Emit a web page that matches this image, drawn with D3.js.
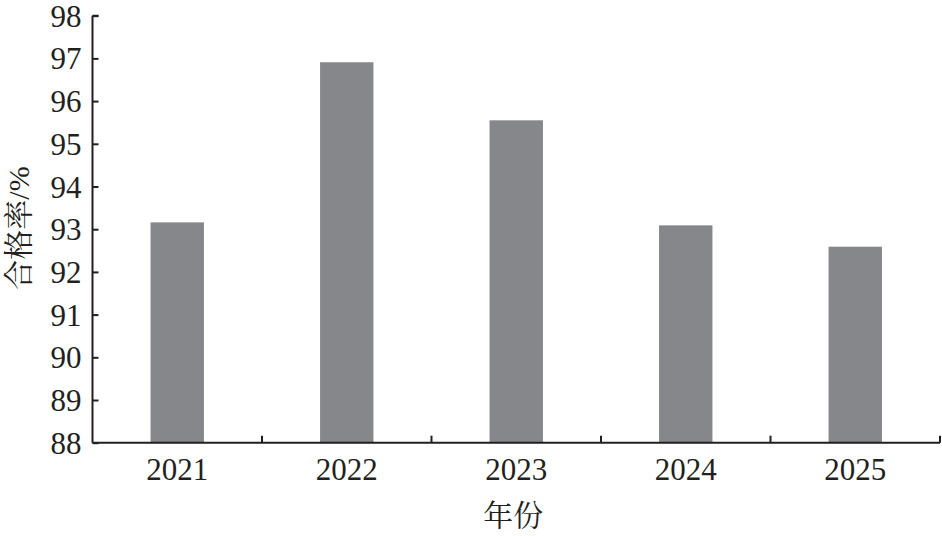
<!DOCTYPE html>
<html><head><meta charset="utf-8">
<script src="https://cdn.jsdelivr.net/npm/d3@7"></script>
<style>body{margin:0;background:#fff}
svg text{font-family:"Liberation Serif","Times New Roman",Times,serif;}
</style>
</head><body>
<svg id="c" width="942" height="536"></svg>
<script>
const categories = ["2021","2022","2023","2024","2025"];
const values = [93.16, 96.91, 95.55, 93.09, 92.59];
const yTicks = [88,89,90,91,92,93,94,95,96,97,98];
const xTitle = "年份";
const yTitle = "合格率/%";

const svg = d3.select("#c");
const L = 92.5, R = 940, T = 15.7, B = 442.7;
const x = d3.scaleBand().domain(categories).range([L, R]).paddingInner(0).paddingOuter(0);
const y = d3.scaleLinear().domain([88, 98]).range([B, T]);
const ink = "#231f20";
const serif = '"Liberation Serif","Times New Roman",Times,serif';
const cjk = '"Liberation Serif","Noto Serif CJK SC","Noto Sans CJK SC",serif';

const bw = x.bandwidth() * 0.315;
svg.append("g").selectAll("rect").data(values).join("rect")
  .attr("x", (d,i) => x(categories[i]) + x.bandwidth()/2 - bw/2)
  .attr("y", d => y(d))
  .attr("width", bw)
  .attr("height", d => B - y(d))
  .attr("fill", "#86878b");

// y axis
const ya = svg.append("g").attr("transform", `translate(${L},0)`)
  .call(d3.axisLeft(y).tickValues(yTicks).tickSize(-6).tickFormat(""));
ya.attr("font-family", null);
ya.select(".domain").attr("d", `M0,${T}H6M0,${T}V${B}`).attr("stroke", ink).attr("stroke-width", 2);
ya.selectAll(".tick line").attr("stroke", ink).attr("stroke-width", 2);
ya.selectAll(".tick text").remove();
const yl = svg.append("g");
yTicks.forEach(v => {
  yl.append("text")
    .attr("x", L - 11)
    .attr("y", y(v) + 11)
    .attr("text-anchor", "end")
    .attr("font-family", serif)
    .style("font-family", serif).style("font-size", "31px").attr("fill", ink)
    .text(String(v));
});

// x axis
const xa = svg.append("g").attr("transform", `translate(0,${B})`);
xa.append("line").attr("x1", L).attr("x2", R).attr("y1", 0).attr("y2", 0)
  .attr("stroke", ink).attr("stroke-width", 2);
const bounds = categories.map(c => x(c)).slice(1).concat([R]);
xa.selectAll("line.t").data(bounds).join("line").attr("class","t")
  .attr("x1", d => d).attr("x2", d => d).attr("y1", 0).attr("y2", -7)
  .attr("stroke", ink).attr("stroke-width", 2);
xa.selectAll("text").data(categories).join("text")
  .attr("x", d => x(d) + x.bandwidth()/2)
  .attr("y", 37)
  .attr("text-anchor", "middle")
  .style("font-family", serif).style("font-size", "31px").attr("fill", ink)
  .text(d => d);

svg.append("text").attr("x", (L+R)/2 - 3).attr("y", 526)
  .attr("text-anchor", "middle").style("font-family", cjk).style("font-size", "30px").attr("fill", ink)
  .text(xTitle);

svg.append("text").attr("transform", "translate(29,228) rotate(-90)")
  .attr("text-anchor", "middle").style("font-family", cjk).style("font-size", "30px").attr("fill", ink)
  .text(yTitle);
</script>
</body></html>
